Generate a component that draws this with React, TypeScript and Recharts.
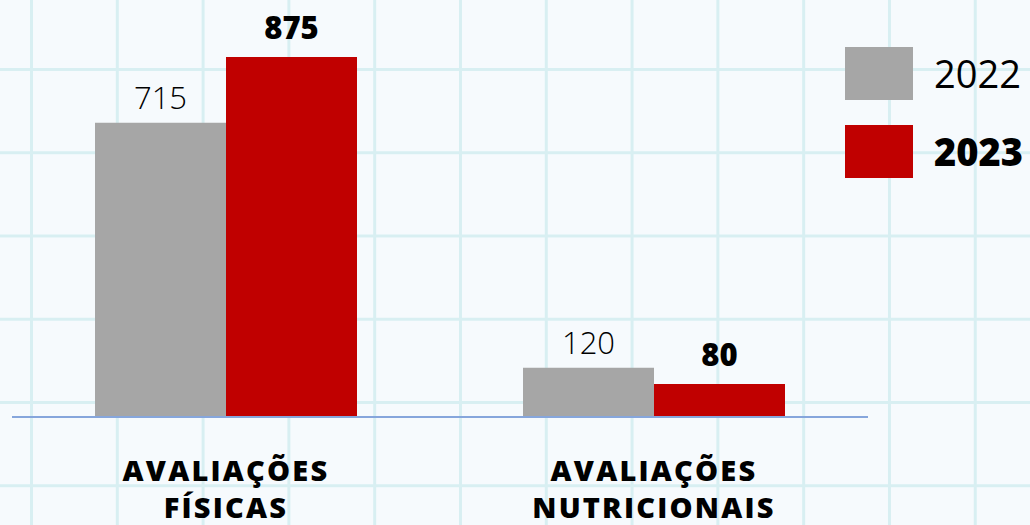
import { BarChart, Bar, XAxis, YAxis, LabelList } from "recharts";

const categories = ["AVALIAÇÕES FÍSICAS", "AVALIAÇÕES NUTRICIONAIS"];
const values2022 = [715, 120];
const values2023 = [875, 80];
const seriesNames = ["2022", "2023"];
const seriesColors = ["#a6a6a6", "#c00000"];

const data = categories.map((name, i) => ({
  name,
  v2022: values2022[i],
  v2023: values2023[i],
}));

const FONT = "'Open Sans', 'DejaVu Sans', sans-serif";

function CategoryTick(props: any) {
  const { x, y, payload } = props;
  const words = String(payload.value).split(" ");
  return (
    <text
      x={x}
      y={y}
      textAnchor="middle"
      fill="#000"
      fontFamily={FONT}
      fontWeight={800}
      fontSize={29}
      letterSpacing={2.2}
    >
      {words.map((w, i) => (
        <tspan key={i} x={x} dy={i === 0 ? 56 : 37}>
          {w}
        </tspan>
      ))}
    </text>
  );
}

function YearLegend() {
  return (
    <div style={{ position: "absolute", top: 34, left: 845, fontFamily: FONT }}>
      {seriesNames.map((name, i) => (
        <div key={name} style={{ display: "flex", alignItems: "center", height: 78 }}>
          <div
            style={{ width: 68, height: 53, background: seriesColors[i], marginRight: 21 }}
          />
          <span style={{ fontSize: 38, fontWeight: i === 1 ? 800 : 400, color: "#000" }}>
            {name}
          </span>
        </div>
      ))}
    </div>
  );
}

export default function App() {
  return (
    <div
      style={{
        position: "relative",
        width: 1030,
        height: 525,
        backgroundColor: "#f6fafd",
        backgroundImage:
          "linear-gradient(to right, #d8eff2 3px, transparent 3px), linear-gradient(to bottom, #d8eff2 3px, transparent 3px)",
        backgroundSize: "85.8px 83.25px",
        backgroundPosition: "30px 68px",
        overflow: "hidden",
      }}
    >
      <style>{`body{margin:0}`}</style>
      <BarChart
        width={1030}
        height={525}
        data={data}
        margin={{ top: 57, right: 162, left: 12, bottom: 8 }}
        barGap={0}
        barSize={131}
      >
        <XAxis
          dataKey="name"
          axisLine={{ stroke: "#86a6dc", strokeWidth: 2 }}
          tickLine={false}
          tick={<CategoryTick />}
          interval={0}
          height={100}
        />
        <YAxis hide domain={[0, 875]} />
        <Bar dataKey="v2022" name={seriesNames[0]} fill={seriesColors[0]} isAnimationActive={false}>
          <LabelList
            dataKey="v2022"
            position="top"
            offset={14}
            fill="#000"
            fontFamily={FONT}
            fontSize={31}
            fontWeight={300}
          />
        </Bar>
        <Bar dataKey="v2023" name={seriesNames[1]} fill={seriesColors[1]} isAnimationActive={false}>
          <LabelList
            dataKey="v2023"
            position="top"
            offset={18}
            fill="#000"
            fontFamily={FONT}
            fontSize={31}
            fontWeight={800}
          />
        </Bar>
      </BarChart>
      <YearLegend />
    </div>
  );
}
